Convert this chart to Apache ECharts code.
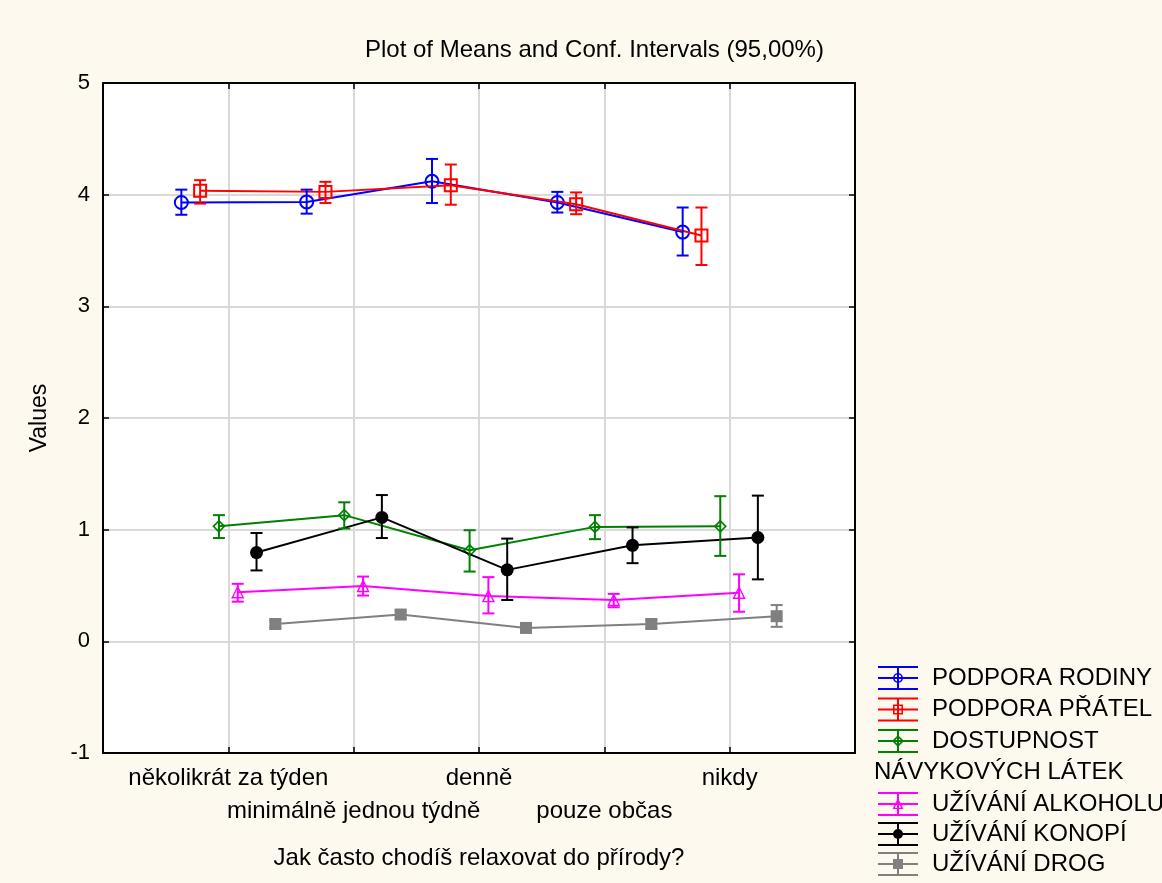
<!DOCTYPE html>
<html>
<head>
<meta charset="utf-8">
<script src="https://cdn.jsdelivr.net/npm/echarts@6/dist/echarts.min.js"></script>
<style>
html,body{margin:0;padding:0;background:#fdf9ee;}
#chart{width:1162px;height:883px;}
</style>
</head>
<body>
<div id="chart"></div>
<script>
// ---- data ----
const categories = ['několikrát za týden', 'minimálně jednou týdně', 'denně', 'pouze občas', 'nikdy'];
const yTicks = [-1, 0, 1, 2, 3, 4, 5];
const seriesNames = ['PODPORA RODINY', 'PODPORA PŘÁTEL', 'DOSTUPNOST', 'UŽÍVÁNÍ ALKOHOLU', 'UŽÍVÁNÍ KONOPÍ', 'UŽÍVÁNÍ DROG'];

const rodinyMean = [3.93, 3.935, 4.12, 3.93, 3.665];
const rodinyLow  = [3.82, 3.83, 3.925, 3.84, 3.455];
const rodinyHigh = [4.045, 4.045, 4.32, 4.025, 3.885];

const pratelMean = [4.035, 4.025, 4.085, 3.915, 3.635];
const pratelLow  = [3.92, 3.925, 3.91, 3.825, 3.37];
const pratelHigh = [4.13, 4.115, 4.27, 4.02, 3.885];

const dostupMean = [1.03, 1.13, 0.815, 1.025, 1.03];
const dostupLow  = [0.925, 1.01, 0.625, 0.915, 0.765];
const dostupHigh = [1.13, 1.245, 0.995, 1.13, 1.3];

const alkoholMean = [0.44, 0.495, 0.405, 0.37, 0.435];
const alkoholLow  = [0.355, 0.41, 0.25, 0.305, 0.265];
const alkoholHigh = [0.515, 0.58, 0.575, 0.425, 0.6];

const konopiMean = [0.795, 1.11, 0.64, 0.86, 0.93];
const konopiLow  = [0.635, 0.925, 0.37, 0.70, 0.555];
const konopiHigh = [0.97, 1.31, 0.92, 1.02, 1.305];

const drogMean = [0.155, 0.24, 0.12, 0.155, 0.225];
const drogLow  = [0.12, 0.205, 0.085, 0.12, 0.13];
const drogHigh = [0.19, 0.275, 0.155, 0.19, 0.325];

// ---- styling ----
const FONT = '"Liberation Sans", Arial, sans-serif';
const groups = [
  {mean: rodinyMean, low: rodinyLow, high: rodinyHigh, color: '#0000ff', symbol: 'circle', size: 13, filled: false, bw: 2},
  {mean: pratelMean, low: pratelLow, high: pratelHigh, color: '#ff0000', symbol: 'rect', size: 12, filled: false, bw: 2},
  {mean: dostupMean, low: dostupLow, high: dostupHigh, color: '#008000', symbol: 'diamond', size: 11, filled: false, bw: 1.6},
  {mean: alkoholMean, low: alkoholLow, high: alkoholHigh, color: '#ff00ff', symbol: 'triangle', size: 11, filled: false, bw: 1.4},
  {mean: konopiMean, low: konopiLow, high: konopiHigh, color: '#000000', symbol: 'circle', size: 13, filled: true, bw: 0},
  {mean: drogMean, low: drogLow, high: drogHigh, color: '#808080', symbol: 'rect', size: 12, filled: true, bw: 0}
];
const STEP = 0.15;

// legend icons (40 x 24 box): three bars + vertical + marker
const bars = 'M0,0H40V2H0Z M0,11H40V13H0Z M0,22H40V24H0Z M19,0H21V24H19Z ';
const iconMarkers = [
  'M25,12A5,5 0 1,1 15,12A5,5 0 1,1 25,12Z M23.4,12A3.4,3.4 0 1,0 16.6,12A3.4,3.4 0 1,0 23.4,12Z',
  'M15,7H25V17H15Z M16.6,8.6V15.4H23.4V8.6Z',
  'M20,6L26,12L20,18L14,12Z M20,8.3L16.3,12L20,15.7L23.7,12Z',
  'M20,6L25.5,17L14.5,17Z M20,9.2L16.9,15.7L23.1,15.7Z',
  'M25,12A5,5 0 1,1 15,12A5,5 0 1,1 25,12Z',
  'M15,7H25V17H15Z'
];

const series = [];
groups.forEach((g, si) => {
  const off = (si - 2.5) * STEP;
  series.push({
    name: seriesNames[si],
    type: 'line',
    data: g.mean.map((v, i) => [i + 1 + off, v]),
    symbol: g.symbol,
    symbolSize: g.size,
    lineStyle: {color: g.color, width: 2},
    itemStyle: g.filled ? {color: g.color} : {color: 'rgba(0,0,0,0)', borderColor: g.color, borderWidth: g.bw},
    z: 3 + si,
    emphasis: {disabled: true}
  });
  series.push({
    name: seriesNames[si],
    type: 'custom',
    data: g.mean.map((v, i) => [i + 1 + off, g.low[i], g.high[i]]),
    encode: {x: 0, y: [1, 2]},
    z: 10 + si,
    renderItem: function (params, api) {
      const x = api.value(0);
      const pLo = api.coord([x, api.value(1)]);
      const pHi = api.coord([x, api.value(2)]);
      const hw = 6;
      const st = {stroke: g.color, lineWidth: 2, fill: null};
      return {
        type: 'group',
        children: [
          {type: 'line', shape: {x1: pLo[0], y1: pLo[1], x2: pHi[0], y2: pHi[1]}, style: st},
          {type: 'line', shape: {x1: pHi[0] - hw, y1: pHi[1], x2: pHi[0] + hw, y2: pHi[1]}, style: st},
          {type: 'line', shape: {x1: pLo[0] - hw, y1: pLo[1], x2: pLo[0] + hw, y2: pLo[1]}, style: st}
        ]
      };
    }
  });
});

function legendItem(si) {
  return {
    name: seriesNames[si],
    icon: 'path://' + bars + iconMarkers[si],
    itemStyle: {color: groups[si].color, borderWidth: 0}
  };
}
const legendCommon = {
  orient: 'vertical',
  left: 878,
  padding: 0,
  itemWidth: 40,
  itemHeight: 24,
  selectedMode: false,
  formatter: name => '{t|' + name + '}',
  textStyle: {
    color: '#000', fontFamily: FONT, fontSize: 24, lineHeight: 24,
    rich: {t: {color: '#000', fontFamily: FONT, fontSize: 24, lineHeight: 24, padding: [0, 0, 0, 9]}}
  }
};

const chart = echarts.init(document.getElementById('chart'));
chart.setOption({
  animation: false,
  backgroundColor: '#fdf9ee',
  title: {
    text: 'Plot of Means and Conf. Intervals (95,00%)',
    left: 360, top: 33,
    textStyle: {fontFamily: FONT, fontSize: 24, fontWeight: 'normal', color: '#000'}
  },
  grid: {left: 103, top: 83, width: 752, height: 670, show: true, backgroundColor: '#ffffff', borderWidth: 0},
  legend: [
    Object.assign({top: 666, itemGap: 7.5, data: [0, 1, 2].map(legendItem)}, legendCommon),
    Object.assign({top: 792, itemGap: 6, data: [3, 4, 5].map(legendItem)}, legendCommon)
  ],
  graphic: [{
    type: 'text', x: 874, y: 772,
    style: {text: 'NÁVYKOVÝCH LÁTEK', font: '24px ' + FONT, fill: '#000', verticalAlign: 'middle'}
  }],
  xAxis: [{
    type: 'value', min: 0, max: 6, interval: 1, position: 'bottom',
    name: 'Jak často chodíš relaxovat do přírody?', nameLocation: 'middle', nameGap: 93,
    nameTextStyle: {fontFamily: FONT, fontSize: 24, color: '#000'},
    axisLine: {show: true, onZero: false, lineStyle: {color: '#000', width: 2}},
    axisTick: {show: true, inside: true, length: 6, lineStyle: {color: '#000', width: 1.5}},
    splitLine: {show: true, lineStyle: {color: '#d9d9d9', width: 2}},
    axisLabel: {
      fontFamily: FONT, fontSize: 24, color: '#000', margin: 8.5, lineHeight: 33,
      verticalAlign: 'top',
      formatter: function (v) {
        const i = Math.round(v) - 1;
        if (i < 0 || i >= categories.length) return '';
        return (i % 2 === 1 ? '\n' : '') + categories[i];
      }
    }
  }, {
    type: 'value', min: 0, max: 6, interval: 1, position: 'top',
    axisLine: {show: true, onZero: false, lineStyle: {color: '#000', width: 2}},
    axisTick: {show: true, inside: true, length: 6, lineStyle: {color: '#000', width: 1.5}},
    axisLabel: {show: false}, splitLine: {show: false}
  }],
  yAxis: [{
    type: 'value', min: yTicks[0], max: yTicks[yTicks.length - 1], interval: 1,
    name: 'Values', nameLocation: 'middle', nameGap: 52, nameRotate: 90,
    nameTextStyle: {fontFamily: FONT, fontSize: 23, color: '#000'},
    axisLine: {show: true, onZero: false, lineStyle: {color: '#000', width: 2}},
    axisTick: {show: true, inside: true, length: 6, lineStyle: {color: '#000', width: 1.5}},
    splitLine: {show: true, lineStyle: {color: '#d9d9d9', width: 2}},
    axisLabel: {fontFamily: FONT, fontSize: 22, color: '#000', margin: 13}
  }, {
    type: 'value', min: yTicks[0], max: yTicks[yTicks.length - 1], interval: 1, position: 'right',
    axisLine: {show: true, onZero: false, lineStyle: {color: '#000', width: 2}},
    axisTick: {show: true, inside: true, length: 6, lineStyle: {color: '#000', width: 1.5}},
    axisLabel: {show: false}, splitLine: {show: false}
  }],
  series: series
});
</script>
</body>
</html>
